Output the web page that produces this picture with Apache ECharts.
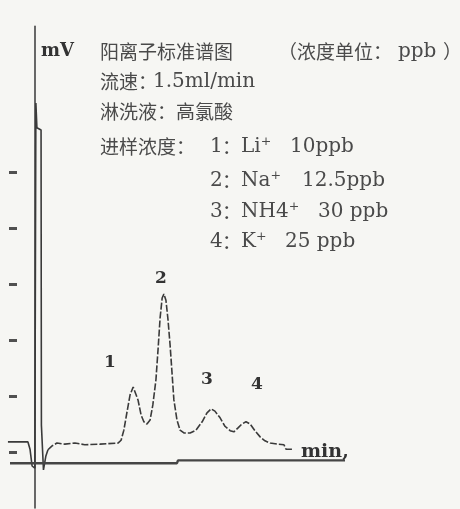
<!DOCTYPE html>
<html>
<head>
<meta charset="utf-8">
<script src="https://cdn.jsdelivr.net/npm/echarts@6/dist/echarts.min.js"></script>
<style>
html,body{margin:0;padding:0;background:#f6f6f3;}
#c{width:460px;height:509px;}
</style>
</head>
<body>
<div id="c"></div>
<script>
// ---- data (x: min, y: mV) ----
const injTime = [-0.77,-0.19,-0.13,-0.07,0.01,0.04,0.07,0.19,0.20,0.25,0.26,0.33,0.39];
const injMv   = [0.18,0.18,0.05,-0.25,-0.29,6.23,5.79,5.75,0.48,0.45,-0.32,-0.07,0.04];
const signalTime = [0.39,0.51,0.65,0.88,1.17,1.46,1.90,2.42,2.51,2.59,2.68,2.77,2.86,2.91,3.00,3.09,3.17,3.26,3.35,3.43,3.52,3.58,3.64,3.70,3.75,3.81,3.87,3.93,3.99,4.04,4.13,4.22,4.33,4.51,4.68,4.86,5.00,5.12,5.23,5.38,5.52,5.67,5.78,5.90,6.01,6.13,6.25,6.39,6.54,6.68,6.83,7.06,7.23,7.29,7.52];
const signalMv   = [0.04,0.11,0.16,0.14,0.16,0.13,0.14,0.16,0.21,0.39,0.71,1.02,1.16,1.13,0.93,0.66,0.54,0.50,0.57,0.84,1.29,1.82,2.39,2.75,2.82,2.71,2.36,1.91,1.38,0.93,0.57,0.39,0.34,0.34,0.39,0.54,0.70,0.77,0.73,0.61,0.46,0.38,0.36,0.43,0.50,0.54,0.50,0.38,0.27,0.20,0.16,0.14,0.13,0.05,0.05];
const baseTime = [-0.71, 4.13, 4.16, 9.0];
const baseMv   = [-0.20, -0.20, -0.15, -0.15];
const yTickValues = [0, 1, 2, 3, 4, 5];
const peakNumbers = ['1', '2', '3', '4'];
const ionNames = ['Li\u207A', 'Na\u207A', 'NH4\u207A', 'K\u207A'];
const ionConc = ['10ppb', '12.5ppb', '30 ppb', '25 ppb'];
const titleText = '阳离子标准谱图';
const unitText = ['（浓度单位：', 'ppb', '）'];
const flowText = ['流速：', '1.5ml/min'];
const eluentText = '淋洗液：高氯酸';
const injText = '进样浓度：';
const yName = 'mV';
const xName = 'min,';

// ---- layout (positions/styles only) ----
const CJK = {fontFamily: 'Noto Sans CJK SC', fontSize: 19, fontWeight: 'normal'};
const LAT = {fontFamily: 'DejaVu Serif', fontSize: 20, fontWeight: 'normal'};
const BOLD = (s) => ({fontFamily: 'DejaVu Serif', fontSize: s, fontWeight: 'bold'});
const TXT = '#4a4a4a';
const lineY = [147, 181, 212, 242];
const concX = [290, 302, 318, 285];
const peakLabelPos = [[110, 363], [161, 279], [207, 380], [257, 385]];

function t(text, x, y, f, fill, align) {
  return {type: 'text', silent: true, z: 10,
    style: Object.assign({text: text, x: x, y: y, fill: fill || TXT,
      verticalAlign: 'middle', align: align || 'left'}, f)};
}

const graphics = [];
graphics.push(t(yName, 41, 51, BOLD(18), '#333'));
graphics.push(t(titleText, 100, 52, CJK));
graphics.push(t(unitText[0], 278, 52, CJK));
graphics.push(t(unitText[1], 398, 52, LAT));
graphics.push(t(unitText[2], 443, 52, CJK));
graphics.push(t(flowText[0], 100, 82, CJK));
graphics.push(t(flowText[1], 153, 82, LAT));
graphics.push(t(eluentText, 100, 112, CJK));
graphics.push(t(injText, 100, lineY[0], CJK));
for (let i = 0; i < 4; i++) {
  graphics.push(t(peakNumbers[i], 210, lineY[i], LAT));
  graphics.push(t('：', 222, lineY[i], CJK));
  graphics.push(t(ionNames[i], 241, lineY[i], LAT));
  graphics.push(t(ionConc[i], concX[i], lineY[i], LAT));
  graphics.push(t(peakNumbers[i], peakLabelPos[i][0], peakLabelPos[i][1], BOLD(17), '#333', 'center'));
}
graphics.push(t(xName, 301, 452, BOLD(19), '#333'));

const chart = echarts.init(document.getElementById('c'), null, {renderer: 'canvas'});
chart.setOption({
  backgroundColor: '#f6f6f3',
  animation: false,
  grid: {left: 0, right: 115, top: 26.4, bottom: 1},
  xAxis: {type: 'value', min: -1, max: 9,
    axisLine: {show: false}, axisTick: {show: false}, axisLabel: {show: false}, splitLine: {show: false}},
  yAxis: [
    {type: 'value', min: -1, max: 7.6, interval: 1,
      axisLine: {show: true, onZero: true, lineStyle: {color: '#444', width: 1.6}},
      axisTick: {show: false}, axisLabel: {show: false}, splitLine: {show: false}},
    {type: 'value', min: -1, max: 7.6, interval: 1, position: 'left', offset: -17,
      axisLine: {show: false, onZero: false},
      axisTick: {show: true, inside: false, length: 8, customValues: yTickValues,
        lineStyle: {color: '#505050', width: 3}},
      axisLabel: {show: false}, splitLine: {show: false}}
  ],
  series: [
    {type: 'line', xAxisIndex: 0, yAxisIndex: 0, showSymbol: false, symbol: 'none',
      data: injTime.map((x, i) => [x, injMv[i]]),
      lineStyle: {color: '#3a3a3a', width: 1.6}},
    {type: 'line', xAxisIndex: 0, yAxisIndex: 0, showSymbol: false, symbol: 'none',
      data: signalTime.map((x, i) => [x, signalMv[i]]),
      lineStyle: {color: '#3a3a3a', width: 1.6, type: [7, 2]}},
    {type: 'line', xAxisIndex: 0, yAxisIndex: 0, showSymbol: false, symbol: 'none',
      data: baseTime.map((x, i) => [x, baseMv[i]]),
      lineStyle: {color: '#454545', width: 2.4}}
  ],
  graphic: graphics
});
</script>
</body>
</html>
